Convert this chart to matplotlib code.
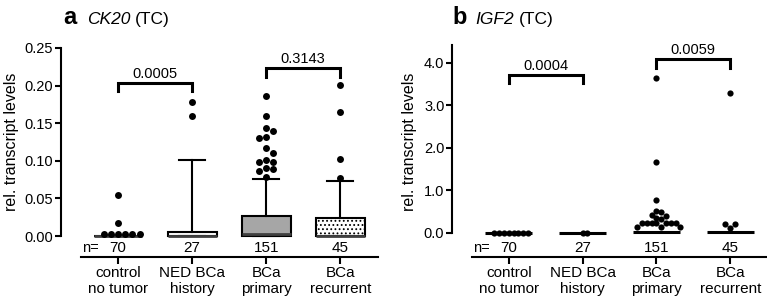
import numpy as np
import matplotlib
matplotlib.use('Agg')
import matplotlib.pyplot as plt

plt.rcParams['font.family'] = ['Liberation Sans', 'DejaVu Sans']
plt.rcParams['hatch.linewidth'] = 0.8

groups = ['control\nno tumor', 'NED BCa\nhistory', 'BCa\nprimary', 'BCa\nrecurrent']
n_counts = [70, 27, 151, 45]

# panel a: CK20 box plots (Tukey)
ck20_q1 = [0.0, 0.0, 0.0, 0.0]
ck20_med = [0.0, 0.0, 0.003, 0.0]
ck20_q3 = [0.0, 0.005, 0.027, 0.024]
ck20_whishi = [0.0, 0.101, 0.076, 0.073]
ck20_fliers = [
    [0.055, 0.017, 0.003, 0.003, 0.003, 0.003, 0.003, 0.003],
    [0.178, 0.160],
    [0.186, 0.159, 0.143, 0.139, 0.131, 0.130, 0.117, 0.111,
     0.101, 0.099, 0.098, 0.091, 0.089, 0.087, 0.078],
    [0.201, 0.165, 0.103, 0.077],
]
ck20_fill = ['white', 'white', '#a6a6a6', 'white']
ck20_hatch = ['', '', '', '....']
ck20_p = ['0.0005', '0.3143']

# panel b: IGF2 scatter with median
igf2_med = [0.0, 0.0, 0.02, 0.02]
igf2_points = [
    [0.0, 0.0, 0.0, 0.0, 0.0, 0.0, 0.0, 0.0],
    [0.0, 0.0],
    [3.65, 1.68, 0.77, 0.52, 0.50, 0.43, 0.41, 0.35, 0.32,
     0.23, 0.23, 0.23, 0.23, 0.23, 0.23, 0.23,
     0.15, 0.15, 0.15],
    [3.29, 0.125, 0.20, 0.20],
]
igf2_p = ['0.0004', '0.0059']

pairs = [(0, 1), (2, 3)]
ck20_brackets = [(0.193, 0.2035), (0.211, 0.2235)]
igf2_brackets = [(3.53, 3.72), (3.88, 4.09)]

W, H = 767, 302
fig = plt.figure(figsize=(W / 100, H / 100), dpi=100)


def swarm(vals, center, ppu_y, ppu_x, d):
    placed = []
    xs = []
    for v in vals:
        yp = v * ppu_y
        off = 0.0
        for k in range(60):
            step = ((k + 1) // 2) * (1 if k % 2 else -1) * d / 2
            if all((step - px) ** 2 + (yp - py) ** 2 >= d * d * 0.98 for px, py in placed):
                off = step
                break
        placed.append((off, yp))
        xs.append(center + off / ppu_x)
    return xs


def style_axes(ax, ybounds, xright, fmt):
    for s in ['top', 'right']:
        ax.spines[s].set_visible(False)
    ax.spines['left'].set_linewidth(1.5)
    ax.spines['bottom'].set_linewidth(1.5)
    ax.spines['left'].set_bounds(*ybounds)
    ax.spines['bottom'].set_bounds(-0.5, xright)
    ax.tick_params(axis='y', length=4, width=1.5, labelsize=10.5, pad=1.5)
    ax.tick_params(axis='x', length=5, width=1.5, labelsize=11, pad=2)
    ax.set_xticks(range(4))
    ax.set_xticklabels(groups, linespacing=1.15)
    ax.yaxis.set_major_formatter(matplotlib.ticker.FormatStrFormatter(fmt))
    tr = ax.get_xaxis_transform()
    ax.text(-0.49, 0.04, 'n=', transform=tr, ha='left', va='center', fontsize=10.5)
    for i, n in enumerate(n_counts):
        ax.text(i, 0.04, str(n), transform=tr, ha='center', va='center', fontsize=11)


def brackets(ax, heights, labels, gap):
    for (a, b), (lo, hi), lab in zip(pairs, heights, labels):
        ax.plot([a, a, b, b], [lo, hi, hi, lo], color='black', lw=2.2,
                solid_joinstyle='miter', clip_on=False)
        ax.text((a + b) / 2, hi + gap, lab, ha='center', va='bottom', fontsize=10.5)


top, bot = 40, 256.5
# ---- panel a
axa = fig.add_axes([61 / W, 1 - bot / H, 320 / W, (bot - top) / H])
axa.set_xlim(-0.77, 3.55)
axa.set_ylim(-20.5 / 752, 196 / 752)
stats = []
for i in range(4):
    stats.append(dict(med=ck20_med[i], q1=ck20_q1[i], q3=ck20_q3[i],
                      whislo=ck20_q1[i], whishi=ck20_whishi[i], fliers=[]))
bp = axa.bxp(stats, positions=range(4), widths=0.66, patch_artist=True,
             showfliers=False, capwidths=0.35,
             boxprops=dict(linewidth=1.5, edgecolor='black'),
             whiskerprops=dict(linewidth=1.5), capprops=dict(linewidth=1.5),
             medianprops=dict(linewidth=2.0, color='#404040'),
             manage_ticks=False)
for patch, fc, h in zip(bp['boxes'], ck20_fill, ck20_hatch):
    patch.set_facecolor(fc)
    patch.set_hatch(h)
for i, vals in enumerate(ck20_fliers):
    xs = swarm(vals, i, 752, 74, 7.2)
    axa.scatter(xs, vals, s=25, color='black', zorder=4, linewidths=0)
style_axes(axa, (0, 0.25), 3.51, '%.2f')
axa.set_yticks([0, 0.05, 0.10, 0.15, 0.20, 0.25])
brackets(axa, ck20_brackets, ck20_p, 0.002)

# ---- panel b
axb = fig.add_axes([452 / W, 1 - bot / H, 315 / W, (bot - top) / H])
axb.set_xlim(-0.77, -0.77 + 315 / 73.8)
axb.set_ylim(-23.5 / 42.5, 193 / 42.5)
axb.hlines(igf2_med, np.arange(4) - 0.32, np.arange(4) + 0.32, color='black', lw=2.2)
for i, vals in enumerate(igf2_points):
    xs = swarm(vals, i, 42.5, 73.8, 4.8)
    axb.scatter(xs, vals, s=20, color='black', zorder=4, linewidths=0)
style_axes(axb, (0, 4.42), 3.6, '%.1f')
axb.set_yticks([0, 1, 2, 3, 4])
brackets(axb, igf2_brackets, igf2_p, 0.05)

# titles and y labels
for x0, letter, gene, xg, xt in [(63, 'a', 'CK20', 87, 135), (452, 'b', 'IGF2', 475, 519)]:
    yb = 1 - 24 / H
    fig.text(x0 / W, yb, letter, fontsize=17, fontweight='bold', va='baseline')
    fig.text(xg / W, yb, gene, fontsize=12.5, style='italic', va='baseline')
    fig.text(xt / W, yb, '(TC)', fontsize=12.5, va='baseline')
fig.text(12 / W, 1 - 142 / H, 'rel. transcript levels', rotation=90,
         ha='center', va='center', fontsize=11.5)
fig.text(410 / W, 1 - 142 / H, 'rel. transcript levels', rotation=90,
         ha='center', va='center', fontsize=11.5)

fig.savefig('out.png', dpi=100)
